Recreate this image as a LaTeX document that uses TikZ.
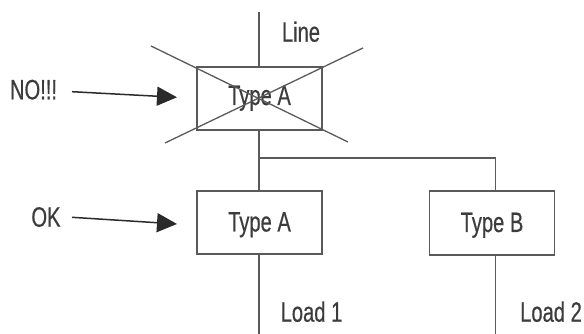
\documentclass[tikz,border=0pt]{standalone}
\usepackage{fontspec}
\setmainfont[FakeStretch=0.72,FakeBold=0.5]{Liberation Sans}
\usetikzlibrary{arrows.meta}
\definecolor{linegray}{HTML}{5A5A5A}
\definecolor{textgray}{HTML}{3C3C3C}
\definecolor{arrowdark}{HTML}{2A2A2A}
\tikzset{
  wire/.style={draw=linegray, line width=1.6pt},
  boxnode/.style={draw=linegray, line width=1.6pt, minimum width=125pt, inner sep=0pt,
    text=textgray, font=\fontsize{28}{30}\selectfont},
  lbl/.style={text=textgray, font=\fontsize{28}{30}\selectfont, inner sep=0pt, anchor=base},
  pointer/.style={draw=arrowdark, line width=1.5pt, -{Triangle[length=20pt,width=19pt]}, fill=arrowdark},
}
\begin{document}
\begin{tikzpicture}[x=1pt,y=1pt]
\useasboundingbox (0,0) rectangle (584,334);
% boxes
\node[boxnode, minimum height=63pt, text height=20pt, text depth=7pt] (bad) at (259.5,235.5) {Type A};
\node[boxnode, minimum height=63pt, text height=20pt, text depth=2pt] (ta) at (259.5,111.5) {Type A};
\node[boxnode, minimum height=64pt, text height=20pt, text depth=2pt] (tb) at (492,111) {Type B};
% coordinates
\coordinate (top) at (259,322);
\coordinate (junc) at (259,176);
\coordinate (end1) at (259,0);
\coordinate (end2) at (495.5,0);
\coordinate (x1a) at (151,288);
\coordinate (x1b) at (348,192);
\coordinate (x2a) at (363,286);
\coordinate (x2b) at (165,191);
% wires
\draw[wire] (top) -- (bad.north -| top);
\draw[wire] (bad.south -| top) -- (ta.north -| top);
\draw[wire] (junc) -| (tb.north -| end2);
\draw[wire] (ta.south -| end1) -- (end1);
\draw[wire] (tb.south -| end2) -- (end2);
% cross
\draw[wire, line width=1.3pt] (x1a) -- (x1b);
\draw[wire, line width=1.3pt] (x2a) -- (x2b);
% labels
\node[lbl] (line) at (301,292.3) {Line};
\node[lbl] (load1) at (311.5,12.3) {Load 1};
\node[lbl] (load2) at (551,12.3) {Load 2};
\node[lbl] (no) at (33.5,234.7) {NO!!!};
\node[lbl] (ok) at (46,107.3) {OK};
% pointers
\coordinate (notip) at (177,236.7);
\coordinate (oktip) at (177,110);
\draw[pointer] (72,242.3) -- (notip);
\draw[pointer] (72,116.7) -- (oktip);
\end{tikzpicture}
\end{document}
